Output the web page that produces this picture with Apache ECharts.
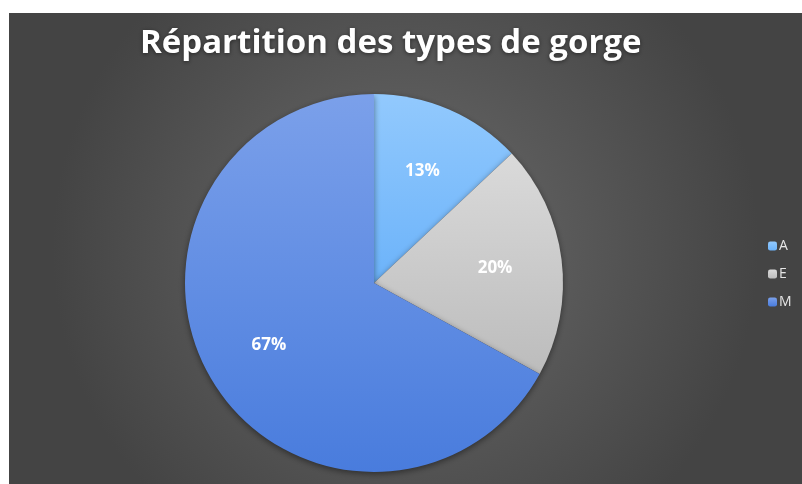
<!DOCTYPE html>
<html>
<head>
<meta charset="utf-8">
<script src="https://cdn.jsdelivr.net/npm/echarts@6/dist/echarts.min.js"></script>
<style>
  html, body { margin: 0; padding: 0; background: #ffffff; }
  #main { position: absolute; left: 9px; top: 13px; width: 793px; height: 471px; }
</style>
</head>
<body>
<div id="main"></div>
<script>
// Répartition des types de gorge
var categories = ['A', 'E', 'M'];
var values = [13, 20, 67];
var topColors = ['#92c9fd', '#dadada', '#7ba0ea'];
var bottomColors = ['#6cb3fa', '#bcbcbc', '#497cdd'];

function grad(i) {
    return new echarts.graphic.LinearGradient(0, 0, 0, 1, [
        { offset: 0, color: topColors[i] },
        { offset: 1, color: bottomColors[i] }
    ]);
}

var pieData = categories.map(function (name, i) {
    return { name: name, value: values[i], itemStyle: { color: grad(i) } };
});
var labelData = categories.map(function (name, i) {
    return { name: name, value: values[i] };
});

var myChart = echarts.init(document.getElementById('main'));
var option = {
    backgroundColor: new echarts.graphic.RadialGradient(0.5, 0.5, 0.75, [
        { offset: 0, color: '#6b6b6b' },
        { offset: 1, color: '#444444' }
    ]),
    title: {
        text: 'Répartition des types de gorge',
        left: 126,
        top: 9,
        textStyle: {
            color: '#ffffff',
            fontFamily: 'Open Sans',
            fontWeight: 'bold',
            fontSize: 33,
            textShadowColor: 'rgba(0,0,0,0.5)',
            textShadowBlur: 4,
            textShadowOffsetY: 1
        }
    },
    legend: {
        orient: 'vertical',
        left: 754,
        top: 221,
        itemWidth: 9,
        itemHeight: 9,
        itemGap: 14,
        data: categories,
        textStyle: { color: '#e6e6e6', fontSize: 14, fontFamily: 'Open Sans', padding: [0, 0, 0, -3] }
    },
    series: [{
        type: 'pie',
        radius: [0, 189],
        center: [365, 270],
        startAngle: 90,
        clockwise: true,
        animation: false,
        label: { show: false },
        labelLine: { show: false },
        itemStyle: {
            shadowColor: 'rgba(0,0,0,0.45)',
            shadowBlur: 6,
            shadowOffsetY: 2
        },
        emphasis: { disabled: true },
        data: pieData
    }, {
        type: 'pie',
        radius: [49, 189],
        center: [365, 270],
        startAngle: 90,
        clockwise: true,
        animation: false,
        silent: true,
        legendHoverLink: false,
        itemStyle: { color: 'rgba(0,0,0,0)' },
        label: {
            show: true,
            position: 'inside',
            formatter: '{c}%',
            color: '#ffffff',
            fontFamily: 'Open Sans',
            fontWeight: 'bold',
            fontSize: 17
        },
        labelLine: { show: false },
        emphasis: { disabled: true },
        data: labelData
    }]
};
myChart.setOption(option);
</script>
</body>
</html>
